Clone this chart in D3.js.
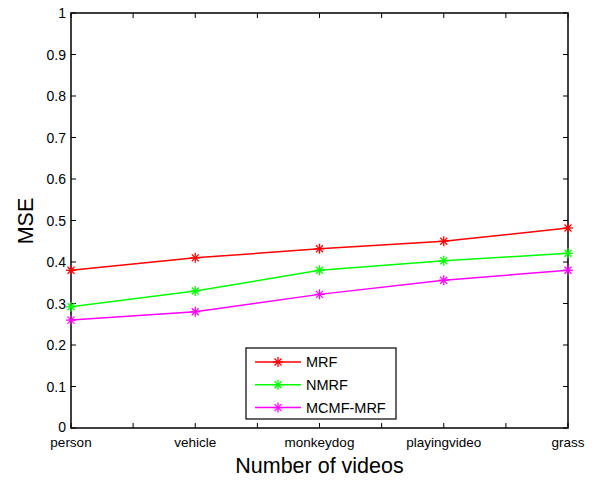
<!DOCTYPE html>
<html><head><meta charset="utf-8">
<script src="https://d3js.org/d3.v7.min.js"></script>
<style>body{margin:0;background:#fff}text{font-family:"Liberation Sans",Arial,sans-serif}</style>
</head><body><svg id="c" width="595" height="480"></svg>
<script>
const categories = ["person","vehicle","monkeydog","playingvideo","grass"];
const seriesNames = ["MRF","NMRF","MCMF-MRF"];
const seriesColors = ["#ff0000","#00ff00","#ff00ff"];
const mrf = [0.38,0.41,0.432,0.45,0.482];
const nmrf = [0.292,0.33,0.38,0.403,0.421];
const mcmf = [0.26,0.28,0.322,0.356,0.38];
const yTicks = [0,0.1,0.2,0.3,0.4,0.5,0.6,0.7,0.8,0.9,1];
const yTickLabels = ["0","0.1","0.2","0.3","0.4","0.5","0.6","0.7","0.8","0.9","1"];
const series = [mrf,nmrf,mcmf];

const svg = d3.select("#c");
const L=71,R=568,T=13,B=428;
const x = d3.scaleLinear().domain([0,categories.length-1]).range([L,R]);
const y = d3.scaleLinear().domain([0,1]).range([B,T]);
const xt = d3.range(0,categories.length-0.99,0.5);

const g = svg.append("g");
xt.forEach(v=>{
  g.append("line").attr("x1",x(v)).attr("x2",x(v)).attr("y1",B).attr("y2",B-5).attr("stroke","#000");
  g.append("line").attr("x1",x(v)).attr("x2",x(v)).attr("y1",T).attr("y2",T+5).attr("stroke","#000");
});
yTicks.forEach(v=>{
  g.append("line").attr("x1",L).attr("x2",L+5).attr("y1",y(v)).attr("y2",y(v)).attr("stroke","#000");
  g.append("line").attr("x1",R).attr("x2",R-5).attr("y1",y(v)).attr("y2",y(v)).attr("stroke","#000");
});
g.append("rect").attr("x",L).attr("y",T).attr("width",R-L).attr("height",B-T).attr("fill","none").attr("stroke","#000").attr("stroke-width",1.5);

yTicks.forEach((v,i)=>{
  g.append("text").attr("x",L-5).attr("y",y(v)+(v===0?4:5)).attr("text-anchor","end").attr("font-size",14).text(yTickLabels[i]);
});
categories.forEach((c,i)=>{
  g.append("text").attr("x",x(i)).attr("y",447).attr("text-anchor","middle").attr("font-size",13.5).text(c);
});
svg.append("text").attr("x",(L+R)/2).attr("y",473).attr("text-anchor","middle").attr("font-size",21.5).text("Number of videos");
svg.append("text").attr("transform","translate(33,221) rotate(-90)").attr("text-anchor","middle").attr("font-size",21.5).text("MSE");

function star(sel,cx,cy,col){
  const s=5;
  const p=sel.append("g").attr("stroke",col).attr("stroke-width",1.3);
  p.append("line").attr("x1",cx-s).attr("x2",cx+s).attr("y1",cy).attr("y2",cy);
  p.append("line").attr("x1",cx).attr("x2",cx).attr("y1",cy-s).attr("y2",cy+s);
  const d=s*0.7;
  p.append("line").attr("x1",cx-d).attr("x2",cx+d).attr("y1",cy-d).attr("y2",cy+d);
  p.append("line").attr("x1",cx-d).attr("x2",cx+d).attr("y1",cy+d).attr("y2",cy-d);
}
const line = d3.line().x((d,i)=>x(i)).y(d=>y(d));
series.forEach((s,k)=>{
  svg.append("path").attr("d",line(s)).attr("fill","none").attr("stroke",seriesColors[k]).attr("stroke-width",1.5);
  s.forEach((v,i)=>star(svg,x(i),y(v),seriesColors[k]));
});

const lg = svg.append("g");
lg.append("rect").attr("x",246).attr("y",348).attr("width",150).attr("height",71).attr("fill","#fff").attr("stroke","#000").attr("stroke-width",1.2);
seriesNames.forEach((n,k)=>{
  const yy = 362+k*22.8;
  lg.append("line").attr("x1",255).attr("x2",301).attr("y1",yy).attr("y2",yy).attr("stroke",seriesColors[k]).attr("stroke-width",1.5);
  star(lg,278,yy,seriesColors[k]);
  lg.append("text").attr("x",306).attr("y",yy+5).attr("font-size",14.5).text(n);
});
</script></body></html>
